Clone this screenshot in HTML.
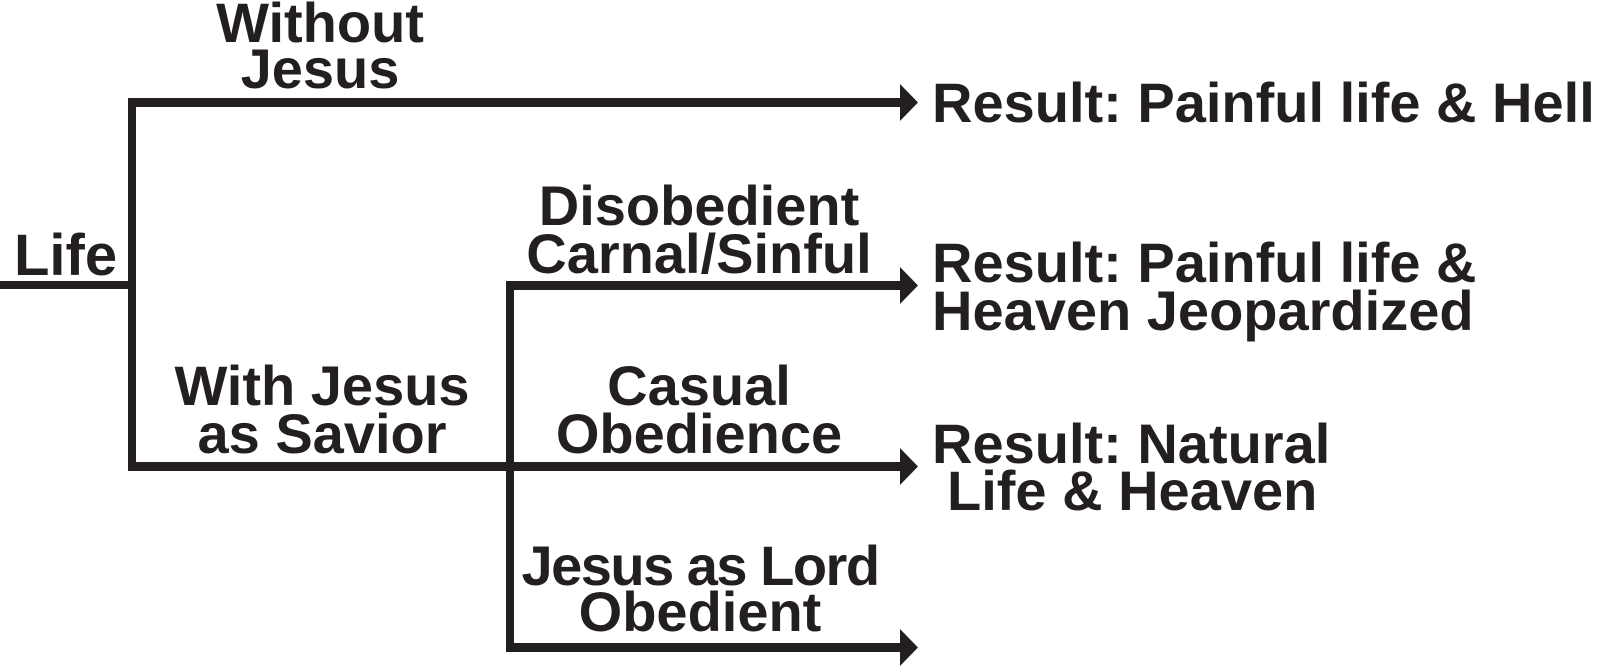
<!DOCTYPE html>
<html><head><meta charset="utf-8"><style>html,body{margin:0;padding:0;background:#fff;}svg{display:block}</style></head>
<body>
<svg width="1600" height="668" viewBox="0 0 1600 668" xmlns="http://www.w3.org/2000/svg">
<g fill="#231f20">
<rect x="0" y="281" width="136" height="8"/>
<rect x="128" y="98" width="8" height="373"/>
<rect x="128" y="98" width="776" height="9"/>
<rect x="128" y="462" width="776" height="9"/>
<rect x="506" y="281" width="8" height="370"/>
<rect x="506" y="281" width="398" height="9"/>
<rect x="506" y="643" width="398" height="9"/>
<polygon points="900,84 918,102.5 900,121"/>
<polygon points="900,267 918,285.5 900,304"/>
<polygon points="900,448 918,466.5 900,485"/>
<polygon points="900,629 918,647.5 900,666"/>
</g>
<g font-family="Liberation Sans, Arial, sans-serif" font-weight="bold" fill="#231f20" font-size="56">
<text x="14" y="275" font-size="58">Life</text>
<text x="320" y="42" text-anchor="middle">Without</text>
<text x="320" y="88" text-anchor="middle">Jesus</text>
<text x="322" y="405" text-anchor="middle">With Jesus</text>
<text x="322" y="453" text-anchor="middle">as Savior</text>
<text x="699" y="225" text-anchor="middle">Disobedient</text>
<text x="699" y="273" text-anchor="middle">Carnal/Sinful</text>
<text x="699" y="405" text-anchor="middle">Casual</text>
<text x="699" y="453" text-anchor="middle">Obedience</text>
<text x="700" y="585" text-anchor="middle" letter-spacing="-1.5">Jesus as Lord</text>
<text x="700" y="631" text-anchor="middle">Obedient</text>
<text x="932" y="122">Result: Painful life &amp; Hell</text>
<text x="932" y="282">Result: Painful life &amp;</text>
<text x="932" y="330">Heaven Jeopardized</text>
<text x="932" y="463">Result: Natural</text>
<text x="947" y="510">Life &amp; Heaven</text>
</g>
</svg>
</body></html>
